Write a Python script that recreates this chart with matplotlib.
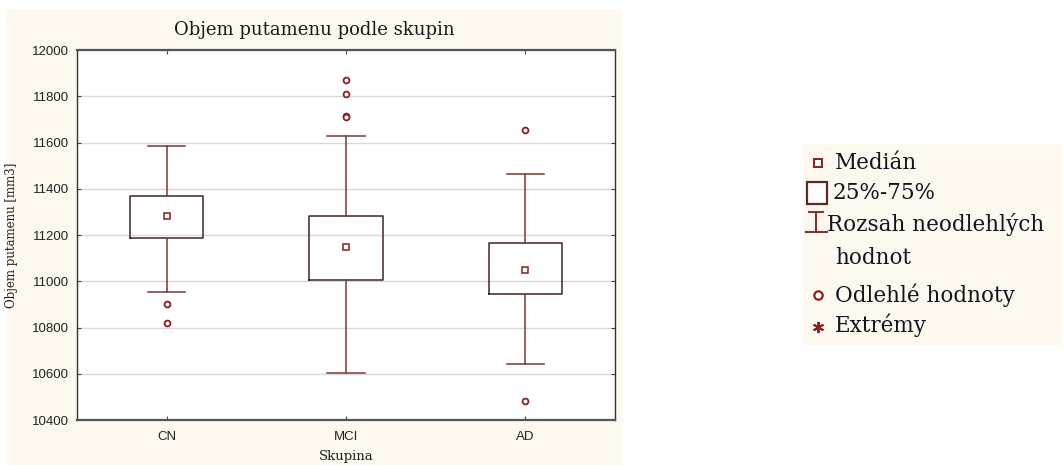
import matplotlib
matplotlib.use("Agg")
import matplotlib.pyplot as plt
from matplotlib.patches import Rectangle

# skupiny a statistiky objemu putamenu [mm3]
skupiny = ["CN", "MCI", "AD"]
median = [11282, 11150, 11047]
q1 = [11186, 11005, 10944]
q3 = [11369, 11283, 11167]
whis_lo = [10955, 10605, 10641]
whis_hi = [11585, 11630, 11464]
odlehle = [[10902, 10821],
           [11870, 11811, 11716, 11712],
           [11654, 10482]]

W, H = 1064, 465
fig = plt.figure(figsize=(W / 100, H / 100), dpi=100)
fig.patch.set_facecolor("white")

cream = "#fdf9ef"
box_col = "#3e2626"
whisk_col = "#7b3838"
pt_col = "#8b1e1e"

def fx(px):
    return px / W

def fy(py):
    return 1 - py / H

# podklad grafu
fig.patches.append(Rectangle((fx(7), fy(465)), fx(622) - fx(7), fy(9) - fy(465),
                             transform=fig.transFigure, facecolor=cream,
                             edgecolor="none", zorder=-10))

ax = fig.add_axes([fx(77), fy(420), fx(615) - fx(77), fy(50) - fy(420)])
ax.set_facecolor("white")

stats = []
for i, s in enumerate(skupiny):
    stats.append(dict(label=s, med=median[i], q1=q1[i], q3=q3[i],
                      whislo=whis_lo[i], whishi=whis_hi[i], fliers=odlehle[i]))

ax.bxp(stats, positions=[1, 2, 3], widths=0.41, capwidths=0.21,
       boxprops=dict(color=box_col, linewidth=1.1),
       whiskerprops=dict(color=whisk_col, linewidth=1.1),
       capprops=dict(color=whisk_col, linewidth=1.1),
       medianprops=dict(linestyle="none"),
       flierprops=dict(marker="o", markersize=4.2, markerfacecolor="white",
                       markeredgecolor=pt_col, markeredgewidth=1.3),
       zorder=3)
ax.plot([1, 2, 3], median, linestyle="none", marker="s", markersize=4,
        markerfacecolor="white", markeredgecolor=pt_col, markeredgewidth=1.1,
        zorder=4)

ax.set_xlim(0.5, 3.5)
ax.set_ylim(10400, 12000)
ax.set_yticks(range(10400, 12001, 200))
ax.yaxis.grid(True, color="#d9d9d9", linewidth=1)
ax.set_axisbelow(True)

ax.tick_params(axis="both", direction="in", length=3, color="#444444",
               labelsize=9.5, labelcolor="#222222", top=True, right=True)
ax.tick_params(axis="y", pad=6)
ax.tick_params(axis="x", pad=8)
for lab in ax.get_xticklabels() + ax.get_yticklabels():
    lab.set_family("Liberation Sans")

for side in ["top", "bottom"]:
    ax.spines[side].set_color("#555555")
    ax.spines[side].set_linewidth(1.6)
for side in ["left", "right"]:
    ax.spines[side].set_color("#333333")
    ax.spines[side].set_linewidth(1.0)

ax.set_xlabel("Skupina", family="DejaVu Serif", fontsize=9.5, color="#222222",
              labelpad=5)
ax.set_ylabel("Objem putamenu [mm3]", family="DejaVu Serif", fontsize=8.5,
              color="#222222", labelpad=10)

fig.text(fx(314), fy(30), "Objem putamenu podle skupin", family="DejaVu Serif",
         fontsize=13, color="#1a1a1a", ha="center", va="center")

# legenda
lg = fig.add_axes([fx(803), fy(345), fx(1062) - fx(803), fy(144) - fy(345)])
lg.set_facecolor(cream)
lg.set_xlim(0, 259)
lg.set_ylim(201, 0)
lg.set_xticks([])
lg.set_yticks([])
for sp in lg.spines.values():
    sp.set_visible(False)

txt = dict(family="DejaVu Serif", fontsize=15.5, color="#14141e", va="center")
lg.plot([15], [19], marker="s", markersize=6, markerfacecolor="white",
        markeredgecolor=pt_col, markeredgewidth=1.4, linestyle="none")
lg.text(32, 19, "Medián", **txt)
lg.add_patch(Rectangle((4, 38), 20, 22, facecolor="white", edgecolor="#5a2a2a",
                       linewidth=1.6))
lg.text(30, 49, "25%-75%", **txt)
lg.plot([13, 13], [68, 88], color=whisk_col, linewidth=1.5)
lg.plot([6, 20], [68, 68], color=whisk_col, linewidth=1.5)
lg.plot([3, 24], [88, 88], color=whisk_col, linewidth=1.5)
lg.text(24, 81, "Rozsah neodlehlých", **txt)
lg.text(32, 114, "hodnot", **txt)
lg.plot([15], [151], marker="o", markersize=6, markerfacecolor="white",
        markeredgecolor=pt_col, markeredgewidth=1.6, linestyle="none")
lg.text(32, 151, "Odlehlé hodnoty", **txt)
lg.plot([15], [183], marker=(6, 2, 0), markersize=8, color=pt_col,
        markeredgewidth=1.4, linestyle="none")
lg.text(32, 181, "Extrémy", **txt)

fig.savefig("out.png", dpi=100)
